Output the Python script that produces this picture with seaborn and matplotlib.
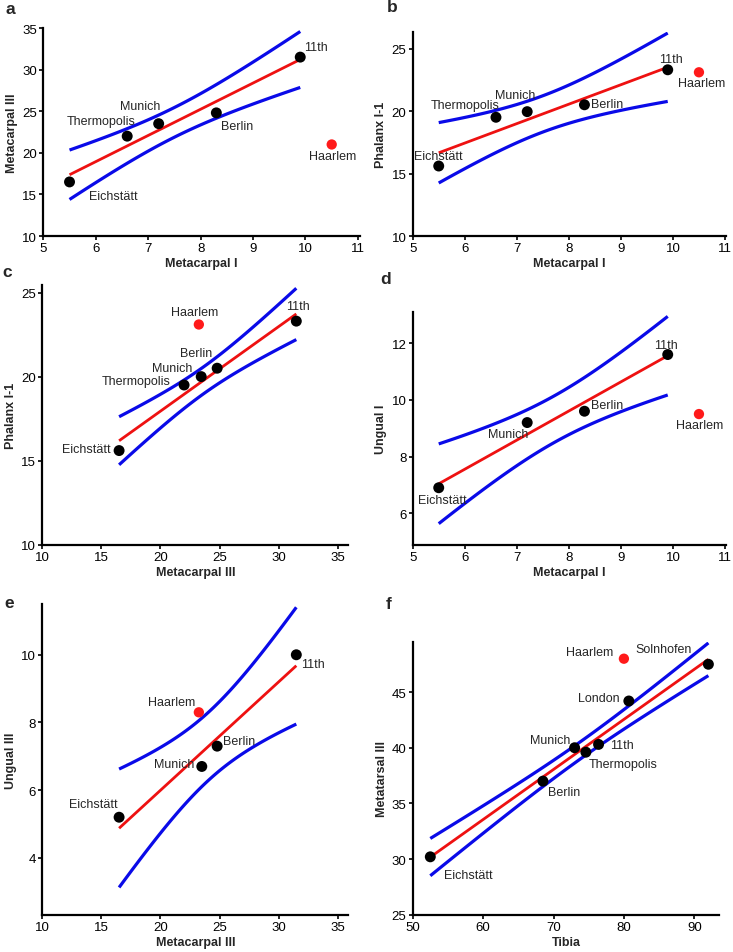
import numpy as np
import pandas as pd
import seaborn as sns
import matplotlib.pyplot as plt

# ---- data ----
# a: Metacarpal I vs Metacarpal III
a_names = ["Eichstätt", "Thermopolis", "Munich", "Berlin", "11th"]
a_x = [5.5, 6.6, 7.2, 8.3, 9.9]
a_y = [16.5, 22.0, 23.5, 24.8, 31.5]
a_haarlem = [10.5, 21.0]

# b: Metacarpal I vs Phalanx I-1
b_names = ["Eichstätt", "Thermopolis", "Munich", "Berlin", "11th"]
b_x = [5.5, 6.6, 7.2, 8.3, 9.9]
b_y = [15.6, 19.5, 19.95, 20.5, 23.3]
b_haarlem = [10.5, 23.1]

# c: Metacarpal III vs Phalanx I-1
c_names = ["Eichstätt", "Thermopolis", "Munich", "Berlin", "11th"]
c_x = [16.5, 22.0, 23.45, 24.8, 31.5]
c_y = [15.6, 19.5, 20.0, 20.5, 23.3]
c_haarlem = [23.25, 23.1]

# d: Metacarpal I vs Ungual I
d_names = ["Eichstätt", "Munich", "Berlin", "11th"]
d_x = [5.5, 7.2, 8.3, 9.9]
d_y = [6.9, 9.2, 9.6, 11.6]
d_haarlem = [10.5, 9.5]

# e: Metacarpal III vs Ungual III
e_names = ["Eichstätt", "Munich", "Berlin", "11th"]
e_x = [16.5, 23.5, 24.8, 31.5]
e_y = [5.2, 6.7, 7.3, 10.0]
e_haarlem = [23.25, 8.3]

# f: Tibia vs Metatarsal III
f_names = ["Eichstätt", "Berlin", "Munich", "Thermopolis", "11th", "London", "Solnhofen"]
f_x = [52.5, 68.5, 73.0, 74.6, 76.4, 80.7, 92.0]
f_y = [30.2, 37.0, 40.0, 39.6, 40.3, 44.2, 47.5]
f_haarlem = [80.0, 48.0]

BLUE = "#0a0ae8"
RED = "#ee1111"

# 95% t quantiles for the confidence band of the fit
T975 = {2: 4.303, 3: 3.182, 4: 2.776, 5: 2.571}


def conf_band(x, y):
    x = np.asarray(x, float)
    y = np.asarray(y, float)
    n = len(x)
    slope, icpt = np.polyfit(x, y, 1)
    xs = np.linspace(x.min(), x.max(), 80)
    resid = y - (icpt + slope * x)
    s = np.sqrt((resid ** 2).sum() / (n - 2))
    sxx = ((x - x.mean()) ** 2).sum()
    se = s * np.sqrt(1.0 / n + (xs - x.mean()) ** 2 / sxx)
    fit = icpt + slope * xs
    t = T975[n - 2]
    return xs, fit - t * se, fit + t * se


sns.set_theme(style="ticks")
plt.rcParams["font.family"] = ["Liberation Sans", "DejaVu Sans"]

W, H = 733, 953
fig = plt.figure(figsize=(W / 100, H / 100), dpi=100)


def make_ax(left, right, top, bottom):
    return fig.add_axes([left / W, 1 - bottom / H, (right - left) / W, (bottom - top) / H])


def panel(ax, x, y, names, haarlem, offs, xlabel, ylabel, xlim, ylim, xticks, yticks):
    df = pd.DataFrame({"x": x, "y": y, "name": names})
    xs, lo, hi = conf_band(x, y)
    ax.plot(xs, lo, color=BLUE, lw=2.3, solid_capstyle="butt", zorder=2)
    ax.plot(xs, hi, color=BLUE, lw=2.3, solid_capstyle="butt", zorder=2)
    sns.regplot(data=df, x="x", y="y", ax=ax, ci=None, scatter=False, truncate=True,
                line_kws=dict(color=RED, lw=2.0, zorder=3, solid_capstyle="butt"))
    sns.scatterplot(data=df, x="x", y="y", ax=ax, color="black", s=62,
                    edgecolor="none", zorder=5, legend=False)
    hdf = pd.DataFrame({"x": [haarlem[0]], "y": [haarlem[1]]})
    sns.scatterplot(data=hdf, x="x", y="y", ax=ax, color="#ff1a1a", s=55,
                    edgecolor="none", zorder=5, legend=False)
    for nm, xi, yi in zip(names, x, y):
        ax.annotate(nm, (xi, yi), xytext=offs[nm], textcoords="offset pixels",
                    ha="center", va="center", fontsize=9, zorder=6)
    ax.annotate("Haarlem", (haarlem[0], haarlem[1]), xytext=offs["Haarlem"],
                textcoords="offset pixels", ha="center", va="center", fontsize=9, zorder=6)
    ax.set_xlim(*xlim)
    ax.set_ylim(*ylim)
    ax.set_xticks(xticks)
    ax.set_yticks(yticks)
    ax.set_xlabel(xlabel, fontsize=9, fontweight="bold", labelpad=2)
    ax.set_ylabel(ylabel, fontsize=9, fontweight="bold", labelpad=3)
    sns.despine(ax=ax)
    for sp in ("left", "bottom"):
        ax.spines[sp].set_linewidth(1.6)
        ax.spines[sp].set_color("black")
    ax.tick_params(direction="out", length=3, width=1.2, pad=1.5, labelsize=9.5, colors="black")


ax_a = make_ax(43.3, 359.5, 29, 237)
panel(ax_a, a_x, a_y, a_names, a_haarlem,
      {"Eichstätt": (44, -14), "Thermopolis": (-26, 15), "Munich": (-18, 18),
       "Berlin": (21, -13), "11th": (16, 10), "Haarlem": (1, -12)},
      "Metacarpal I", "Metacarpal III", (5, 11.03), (10, 35), range(5, 12), range(10, 36, 5))

ax_b = make_ax(412.7, 725.5, 33.3, 237)
panel(ax_b, b_x, b_y, b_names, b_haarlem,
      {"Eichstätt": (0, 10), "Thermopolis": (-31, 12), "Munich": (-12, 17),
       "Berlin": (23, 1), "11th": (3, 11), "Haarlem": (3, -11)},
      "Metacarpal I", "Phalanx I-1", (5, 11.01), (10, 26.3), range(5, 12), range(10, 26, 5))

ax_c = make_ax(42.3, 348.3, 286, 545.7)
panel(ax_c, c_x, c_y, c_names, c_haarlem,
      {"Eichstätt": (-33, 2), "Thermopolis": (-48, 4), "Munich": (-29, 9),
       "Berlin": (-21, 15), "11th": (2, 15), "Haarlem": (-4, 13)},
      "Metacarpal III", "Phalanx I-1", (10, 35.9), (10, 25.45), range(10, 36, 5), range(10, 26, 5))

ax_d = make_ax(412.7, 725.5, 313.3, 546)
panel(ax_d, d_x, d_y, d_names, d_haarlem,
      {"Eichstätt": (4, -12), "Munich": (-19, -11), "Berlin": (23, 6),
       "11th": (-2, 10), "Haarlem": (1, -11)},
      "Metacarpal I", "Ungual I", (5, 11.01), (4.88, 13.09), range(5, 12), range(6, 13, 2))

ax_e = make_ax(42.3, 348.3, 605, 915.7)
panel(ax_e, e_x, e_y, e_names, e_haarlem,
      {"Eichstätt": (-26, 13), "Munich": (-28, 2), "Berlin": (22, 5),
       "11th": (17, -9), "Haarlem": (-27, 10)},
      "Metacarpal III", "Ungual III", (10, 35.9), (2.32, 11.5), range(10, 36, 5), range(4, 11, 2))

ax_f = make_ax(412.7, 719.3, 643, 915.7)
panel(ax_f, f_x, f_y, f_names, f_haarlem,
      {"Eichstätt": (38, -18), "Berlin": (21, -11), "Munich": (-24, 8),
       "Thermopolis": (37, -12), "11th": (23, -1), "London": (-30, 3),
       "Solnhofen": (-45, 15), "Haarlem": (-34, 7)},
      "Tibia", "Metatarsal III", (50, 93.55), (25, 49.5), range(50, 91, 10), range(25, 46, 5))

# panel letters
for letter, px, py in [("a", 10, 9), ("b", 392, 8), ("c", 7, 273),
                       ("d", 386, 280), ("e", 9, 603), ("f", 389, 605)]:
    fig.text(px / W, 1 - py / H, letter, ha="center", va="center",
             fontsize=12.5, fontweight="bold")

fig.savefig("out.png", dpi=100)
